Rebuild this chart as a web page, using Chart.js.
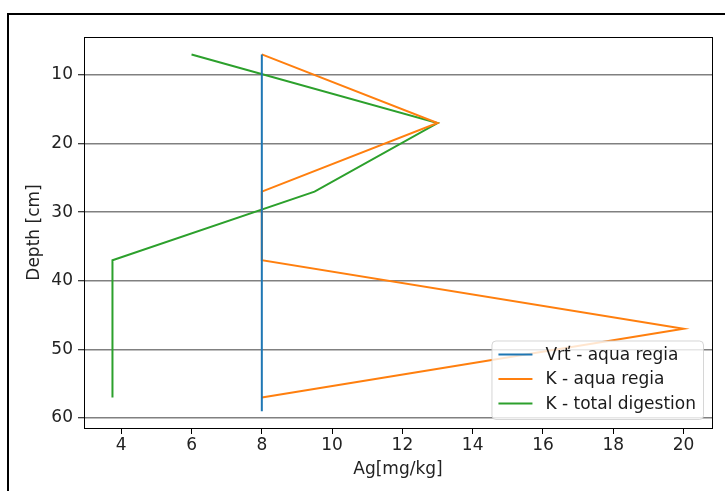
<!DOCTYPE html>
<html>
<head>
<meta charset="utf-8">
<script src="https://cdn.jsdelivr.net/npm/chart.js@4"></script>
<style>
  html, body { margin: 0; padding: 0; background: #fff; }
  #wrap { width: 725px; height: 491px; position: relative; }
</style>
</head>
<body>
<div id="wrap"><canvas id="c" width="725" height="491"></canvas></div>
<script>
// Silver content by depth for three sampling methods
const seriesNames = ['Vrť - aqua regia', 'K - aqua regia', 'K - total digestion'];
const vrtDepth = [7, 17, 27, 37, 47, 57, 59];
const vrtAqua = [8, 8, 8, 8, 8, 8, 8];
const kDepth = [7, 17, 27, 37, 47, 57];
const kAqua = [8, 13, 8, 8, 20, 8];
const kTotal = [6, 13, 9.5, 3.75, 3.75, 3.75];
const xTicks = [4, 6, 8, 10, 12, 14, 16, 18, 20];
const yTicks = [10, 20, 30, 40, 50, 60];
const colors = ['#1f77b4', '#ff7f0e', '#2ca02c'];

const toPoints = (xs, ys) => xs.map((x, i) => ({ x: x, y: ys[i] }));

const FONT = 'DejaVu Sans';
const FS = 17;

// Frame around the figure and the spines around the axes
const framePlugin = {
  id: 'frame',
  beforeDraw(chart) {
    const ctx = chart.ctx;
    ctx.save();
    ctx.fillStyle = '#fff';
    ctx.fillRect(0, 0, chart.width, chart.height);
    ctx.strokeStyle = '#000';
    ctx.lineWidth = 2;
    ctx.strokeRect(8, 14, chart.width + 10, chart.height + 10);
    ctx.restore();
  },
  afterDatasetsDraw(chart) {
    const a = chart.chartArea;
    const ctx = chart.ctx;
    ctx.save();
    ctx.strokeStyle = '#000';
    ctx.lineWidth = 1;
    ctx.strokeRect(Math.round(a.left) + 0.5, Math.round(a.top) + 0.5,
      Math.round(a.right - a.left), Math.round(a.bottom - a.top));
    ctx.restore();
  }
};

// Legend box in the lower right corner of the plot
const legendPlugin = {
  id: 'innerLegend',
  afterDraw(chart) {
    const a = chart.chartArea;
    const ctx = chart.ctx;
    const sets = chart.data.datasets;
    ctx.save();
    ctx.font = FS + 'px "' + FONT + '"';
    const rowH = 24.5;
    let maxW = 0;
    sets.forEach(d => { maxW = Math.max(maxW, ctx.measureText(d.label).width); });
    const w = 54 + maxW + 7;
    const h = rowH * sets.length + 5;
    const x = a.right - 9 - w;
    const y = a.bottom - 9 - h;
    ctx.beginPath();
    ctx.roundRect(x + 0.5, y + 0.5, w, h, 4);
    ctx.fillStyle = 'rgba(255,255,255,0.8)';
    ctx.fill();
    ctx.strokeStyle = 'rgba(204,204,204,0.8)';
    ctx.lineWidth = 1;
    ctx.stroke();
    sets.forEach((d, i) => {
      const cy = y + 14 + i * rowH;
      ctx.strokeStyle = d.borderColor;
      ctx.lineWidth = 2;
      ctx.beginPath();
      ctx.moveTo(x + 7, cy);
      ctx.lineTo(x + 41, cy);
      ctx.stroke();
      ctx.fillStyle = '#1a1a1a';
      ctx.textBaseline = 'middle';
      ctx.fillText(d.label, x + 54, cy + 1);
    });
    ctx.restore();
  }
};

const mk = (label, pts, color) => ({
  label: label,
  data: pts,
  showLine: true,
  borderColor: color,
  backgroundColor: color,
  borderWidth: 2,
  pointRadius: 0,
  pointHoverRadius: 0,
  tension: 0
});

new Chart(document.getElementById('c'), {
  type: 'scatter',
  data: {
    datasets: [
      mk(seriesNames[0], toPoints(vrtAqua, vrtDepth), colors[0]),
      mk(seriesNames[1], toPoints(kAqua, kDepth), colors[1]),
      mk(seriesNames[2], toPoints(kTotal, kDepth), colors[2])
    ]
  },
  options: {
    responsive: false,
    animation: false,
    devicePixelRatio: 1,
    layout: { padding: { left: 0, top: 37, right: 13, bottom: 0 } },
    plugins: {
      legend: { display: false },
      tooltip: { enabled: false }
    },
    scales: {
      x: {
        type: 'linear',
        min: 2.94,
        max: 20.81,
        afterBuildTicks(scale) { scale.ticks = xTicks.map(v => ({ value: v })); },
        afterFit(scale) { scale.height = 63; },
        grid: { drawOnChartArea: false, tickLength: 6, tickColor: '#000', tickWidth: 1 },
        border: { display: true, color: '#000', width: 1 },
        ticks: { color: '#222', font: { family: FONT, size: FS }, padding: 1, maxRotation: 0 },
        title: { display: true, text: 'Ag[mg/kg]', color: '#222', font: { family: FONT, size: FS }, padding: { top: 0, bottom: 11 } }
      },
      y: {
        type: 'linear',
        reverse: true,
        min: 4.46,
        max: 61.46,
        afterBuildTicks(scale) { scale.ticks = yTicks.map(v => ({ value: v })); },
        afterFit(scale) { scale.width = 84; },
        grid: { drawOnChartArea: true, color: '#808080', lineWidth: 1.5, tickLength: 6, tickColor: '#000', tickWidth: 1 },
        border: { display: true, color: '#000', width: 1 },
        ticks: { color: '#222', font: { family: FONT, size: FS }, padding: 5 },
        title: { display: true, text: 'Depth [cm]', color: '#222', font: { family: FONT, size: FS }, padding: { top: 24, bottom: 0 } }
      }
    }
  },
  plugins: [framePlugin, legendPlugin]
});
</script>
</body>
</html>
